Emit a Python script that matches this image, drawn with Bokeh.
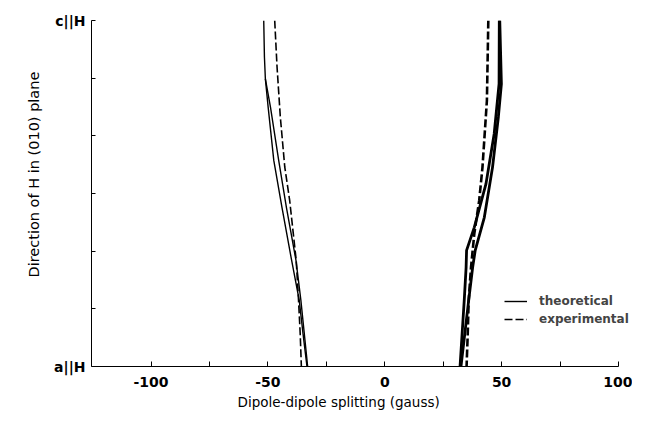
from bokeh.plotting import figure
from bokeh.models import Range1d, FixedTicker, Legend, LegendItem, Title
from bokeh.embed import file_html
from bokeh.resources import INLINE

# Angle of H in the (010) plane (deg, 0 = a||H, 90 = c||H) and splitting (gauss)
left_theo_a_deg = [90, 80.5, 74.8, 67.4, 53.6, 41.4, 28.4, 17.2, 8.6, 0]
left_theo_a = [-51.8, -51.5, -51.1, -49.9, -47.5, -44.0, -40.1, -36.6, -35.0, -33.3]
left_theo_b_deg = [74.8, 67.4, 53.6, 41.4, 27.6, 17.2, 0]
left_theo_b = [-51.1, -48.9, -45.4, -42.1, -38.0, -35.9, -33.0]
left_exp_deg = [90, 77.9, 64.9, 51.9, 43.2, 27.6, 17.2, 8.6, 0]
left_exp = [-47.1, -46.1, -44.7, -42.8, -40.7, -37.9, -36.9, -36.2, -35.7]

right_theo_a_deg = [90, 73.5, 64.9, 51.8, 38.8, 30.2, 25.8, 17.2, 0]
right_theo_a = [49.2, 49.9, 48.6, 46.1, 42.6, 38.7, 37.6, 35.9, 32.6]
right_theo_b_deg = [90, 73.5, 60.5, 47.5, 36.2, 30.2, 25.8, 17.2, 0]
right_theo_b = [49.0, 48.9, 46.8, 43.3, 38.3, 35.0, 34.8, 34.0, 32.2]
right_exp_deg = [90, 69.2, 51.8, 43.2, 34.5, 25.8, 17.2, 8.5, 0]
right_exp = [44.3, 43.7, 41.8, 40.4, 38.3, 36.9, 35.9, 35.5, 35.0]

x_major = [-100, -50, 0, 50, 100]
x_minor = [-75, -25, 25, 75]
x_tick_labels = {-100: "-100", -50: "-50", 0: "0", 50: "50", 100: "100"}
y_ticks = [0, 15, 30, 45, 60, 75, 90]
y_tick_labels = {0: "a||H", 90: "c||H"}

FONT = "DejaVu Sans"

p = figure(width=632, height=411, output_backend="svg", toolbar_location=None,
           x_range=Range1d(-125.5, 106), y_range=Range1d(0, 90),
           min_border_left=91, min_border_right=0, min_border_top=20, min_border_bottom=45)
p.outline_line_color = None
p.xgrid.visible = False
p.ygrid.visible = False
p.background_fill_color = "white"

# x axis
xa = p.xaxis[0]
xa.bounds = (-125.5, 100)
xa.ticker = FixedTicker(ticks=x_major, minor_ticks=x_minor)
xa.major_label_overrides = x_tick_labels
xa.major_tick_in = 5
xa.major_tick_out = 0
xa.minor_tick_in = 5
xa.minor_tick_out = 0
xa.axis_line_color = "black"
xa.major_label_standoff = 10
xa.major_label_text_font = FONT
xa.major_label_text_font_size = "14px"
xa.major_label_text_font_style = "bold"
xa.major_label_text_color = "black"

# y axis
ya = p.yaxis[0]
ya.ticker = FixedTicker(ticks=y_ticks, minor_ticks=[])
ya.major_label_overrides = {t: y_tick_labels.get(t, "") for t in y_ticks}
ya.major_tick_in = 4
ya.major_tick_out = 0
ya.axis_line_color = "black"
ya.major_label_standoff = 6
ya.major_label_text_font = FONT
ya.major_label_text_font_size = "14px"
ya.major_label_text_font_style = "bold"
ya.major_label_text_color = "black"

xtitle = Title(text="Dipole-dipole splitting (gauss)", align="left", offset=146,
               standoff=4, text_font=FONT, text_font_size="13.5px",
               text_font_style="normal", text_color="black")
p.add_layout(xtitle, "below")

ytitle = Title(text="Direction of H in (010) plane", align="left", offset=89,
               standoff=20, text_font=FONT, text_font_size="14.5px",
               text_font_style="normal", text_color="black")
p.add_layout(ytitle, "left")

r1 = p.line(left_theo_a, left_theo_a_deg, line_color="black", line_width=1.4)
p.line(left_theo_b, left_theo_b_deg, line_color="black", line_width=1.4)
r2 = p.line(left_exp, left_exp_deg, line_color="black", line_width=1.6, line_dash="8 3")
p.line(right_theo_a, right_theo_a_deg, line_color="black", line_width=2.8)
p.line(right_theo_b, right_theo_b_deg, line_color="black", line_width=2.8)
p.line(right_exp, right_exp_deg, line_color="black", line_width=2.6, line_dash="8 3")

legend = Legend(items=[LegendItem(label="theoretical", renderers=[r1]),
                       LegendItem(label="experimental", renderers=[r2])],
                location=(413, 38), padding=0, margin=0, spacing=0,
                glyph_width=23, glyph_height=18, label_height=18, label_standoff=12,
                label_text_font=FONT, label_text_font_size="12px",
                label_text_font_style="bold",
                background_fill_alpha=0, border_line_color=None)
p.add_layout(legend)

open("out.html", "w").write(file_html(p, INLINE))
